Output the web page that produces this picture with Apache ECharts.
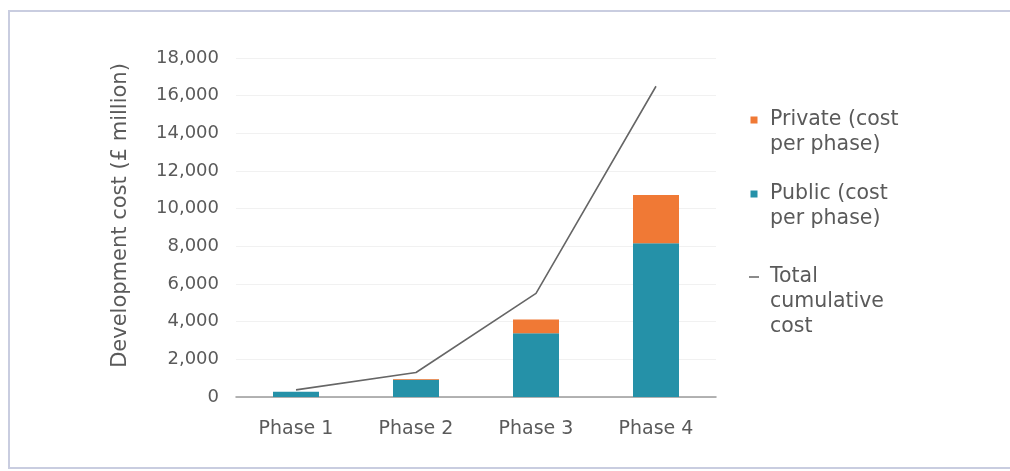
<!DOCTYPE html>
<html>
<head>
<meta charset="utf-8">
<script src="https://cdn.jsdelivr.net/npm/echarts@6/dist/echarts.min.js"></script>
<style>
  html, body { margin: 0; padding: 0; background: #fff; }
  .frame {
    position: absolute; left: 8px; top: 10px;
    width: 1010px; height: 455px;
    border: 2px solid #c9cde0; border-right: none;
    background: #fff;
  }
  #chart { position: absolute; left: 0; top: 0; width: 1010px; height: 471px; }
</style>
</head>
<body>
<div class="frame"></div>
<div id="chart"></div>
<script>
const categories = ['Phase 1', 'Phase 2', 'Phase 3', 'Phase 4']
const publicCost = [280, 920, 3380, 8160]   // 公共部分
const privateCost = [0, 30, 740, 2570]      // 私人部分
const totalCumulative = [380, 1300, 5500, 16500]
const yTicks = { min: 0, max: 18000, interval: 2000 }

const textColor = '#5a5a5a'
const fontFamily = 'DejaVu Sans, sans-serif'
const lineH = 25

// 图标放在高盒子的顶部, 让文字首行与图标对齐 (角上极小点撑开盒子)
const squareIcon = 'path://M0,0H0.1V0.1H0Z M1.5,0H8.5V7H1.5Z M15.9,31.9H16V32H15.9Z'
const dashIcon = 'path://M0,0H10V1.5H0Z M15.9,51.4H16V51.5H15.9Z'

// 单项图例
function legendItem(name, top, icon, h){
  return {
    data: [{name: name, icon: icon}],
    left: 749,
    top: top,
    orient: 'vertical',
    itemWidth: 16,
    itemHeight: h,
    itemGap: 0,
    padding: 0,
    selectedMode: false,
    textStyle: {
      color: textColor,
      fontFamily: fontFamily,
      fontSize: 20.5,
      lineHeight: lineH
    }
  }
}

let option = {
  animation: false,
  legend: [
    legendItem('Private (cost\nper phase)', 107.5, squareIcon, 32),
    legendItem('Public (cost\nper phase)', 181.5, squareIcon, 32),
    legendItem('Total\ncumulative\ncost', 264.5, dashIcon, 51.5)
  ],
  grid: { left: 236, right: 294, top: 58, bottom: 74 },
  xAxis: {
    type: 'category',
    data: categories,
    axisLine: { lineStyle: { color: '#9a9a9a', width: 1.5 } },
    axisTick: { show: false },
    axisLabel: { color: textColor, fontFamily: fontFamily, fontSize: 19, margin: 23 }
  },
  yAxis: {
    type: 'value',
    min: yTicks.min,
    max: yTicks.max,
    interval: yTicks.interval,
    name: 'Development cost (£ million)',
    nameLocation: 'middle',
    nameGap: 105,
    nameTextStyle: {
      color: textColor, fontFamily: fontFamily, fontSize: 21,
      padding: [0, 0, 0, 24]
    },
    axisLine: { show: false },
    axisTick: { show: false },
    splitLine: { lineStyle: { color: '#f1f1f1', width: 1 } },
    axisLabel: {
      color: textColor, fontFamily: fontFamily, fontSize: 18, margin: 17,
      formatter: v => v.toLocaleString('en-US')
    }
  },
  series: [
    {
      name: 'Public (cost\nper phase)',
      type: 'bar',
      stack: 'cost',
      barWidth: 46,
      itemStyle: { color: '#2591a8' },
      data: publicCost
    },
    {
      name: 'Private (cost\nper phase)',
      type: 'bar',
      stack: 'cost',
      barWidth: 46,
      itemStyle: { color: '#f07935' },
      data: privateCost
    },
    {
      name: 'Total\ncumulative\ncost',
      type: 'line',
      symbol: 'none',
      itemStyle: { color: '#666' },
      lineStyle: { color: '#666', width: 1.6 },
      data: totalCumulative,
      z: 5
    }
  ]
}

chart = echarts.init(document.getElementById('chart'))
chart.setOption(option)
window.addEventListener('resize', () => chart && chart.resize())
</script>
</body>
</html>
